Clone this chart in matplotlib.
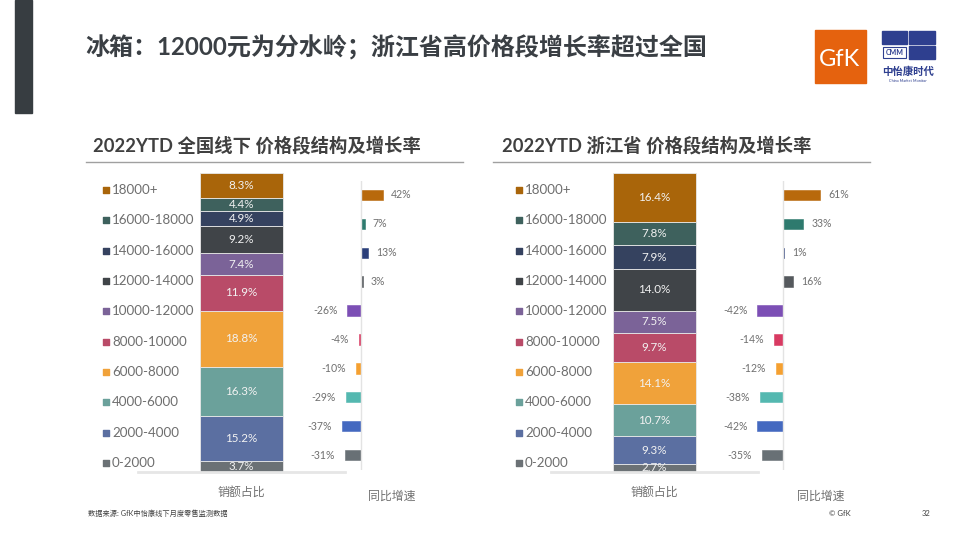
import matplotlib
matplotlib.use('Agg')
import matplotlib.pyplot as plt
from matplotlib.patches import Rectangle

plt.rcParams['font.family'] = ['Lato', 'Noto Sans CJK SC', 'DejaVu Sans']

# price bands, top to bottom
bands = ['18000+', '16000-18000', '14000-16000', '12000-14000', '10000-12000',
         '8000-10000', '6000-8000', '4000-6000', '2000-4000', '0-2000']
share_nat = [8.3, 4.4, 4.9, 9.2, 7.4, 11.9, 18.8, 16.3, 15.2, 3.7]
share_zj = [16.4, 7.8, 7.9, 14.0, 7.5, 9.7, 14.1, 10.7, 9.3, 2.7]
growth_nat = [42, 7, 13, 3, -26, -4, -10, -29, -37, -31]
growth_zj = [61, 33, 1, 16, -42, -14, -12, -38, -42, -35]

seg_colors = ['#A9650A', '#3E615D', '#35425F', '#404448', '#7B6398',
              '#B94B68', '#F0A23A', '#6BA19B', '#5B6FA1', '#6B7175']
gr_colors = ['#B8690C', '#2E7A6E', '#2B3F7A', '#55595D', '#7C4FB5',
             '#D83A62', '#F5A030', '#54B8B0', '#4469C0', '#687075']

title = '冰箱：12000元为分水岭；浙江省高价格段增长率超过全国'
sub_nat = '2022YTD 全国线下 价格段结构及增长率'
sub_zj = '2022YTD 浙江省 价格段结构及增长率'

W, H = 960, 540
fig = plt.figure(figsize=(9.6, 5.4), dpi=100)


def fbox(x0, y0, x1, y1):
    return [x0 / W, 1 - y1 / H, (x1 - x0) / W, (y1 - y0) / H]


def ftxt(x, y, s, **kw):
    fig.text(x / W, 1 - y / H, s, **kw)


def frect(x0, y0, x1, y1, **kw):
    fig.patches.append(Rectangle((x0 / W, 1 - y1 / H), (x1 - x0) / W, (y1 - y0) / H,
                                 transform=fig.transFigure, **kw))


# header
frect(15, 0, 32, 113, color='#373D41')
ftxt(85, 47, title, fontsize=17.3, fontweight='bold', color='#3A3F44', va='center')

# GfK logo
frect(815, 30, 866, 83, color='#E5620E')
ftxt(840, 60, 'GfK', fontsize=17, color='white', ha='center', va='center')
# CMM logo
frect(882, 31, 907, 44, color='#2E3F8F')
frect(909, 31, 935, 44, color='#2E3F8F')
frect(909, 46, 935, 59, color='#2E3F8F')
frect(883, 47, 906, 58, facecolor='white', edgecolor='#2E3F8F', lw=0.8)
ftxt(894.5, 52.5, 'CMM', fontsize=5, color='#2E3F8F', ha='center', va='center',
     fontweight='bold')
ftxt(908, 72, '中怡康时代', fontsize=7.5, color='#2E3F8F', ha='center', va='center',
     fontweight='bold')
ftxt(908, 81, 'China Market Monitor', fontsize=2.8, color='#2E3F8F', ha='center', va='center')


def panel(x_off, sub_x, sub, shares, growth, zero_px, scale, ul, gx_label):
    # subtitle and rule
    ftxt(sub_x, 145, sub, fontsize=13.2, fontweight='bold', color='#404040', va='center')
    fig.add_artist(plt.Line2D([ul[0] / W, ul[1] / W], [1 - 162 / H, 1 - 162 / H],
                              color='#A0A0A0', lw=1, transform=fig.transFigure))

    # legend
    lax = fig.add_axes(fbox(x_off + 100, 175, x_off + 200, 478))
    lax.set_xlim(x_off + 100, x_off + 200)
    lax.set_ylim(9.5, -0.5)
    lax.axis('off')
    for i, b in enumerate(bands):
        lax.scatter(x_off + 106, i, marker='s', s=16, color=seg_colors[i])
        lax.text(x_off + 112, i, b, fontsize=9.6, color='#6E6E6E', va='center')

    # stacked share bar
    sax = fig.add_axes(fbox(x_off + 138, 173, x_off + 345, 472))
    sax.set_xlim(x_off + 138, x_off + 345)
    sax.set_ylim(0, sum(shares))
    sax.axis('off')
    bottom = 0
    for i in range(len(bands) - 1, -1, -1):
        v = shares[i]
        sax.bar(x_off + 241.5, v, width=83, bottom=bottom, color=seg_colors[i],
                edgecolor='#E8E8E8', linewidth=0.6)
        sax.text(x_off + 241.5, bottom + v / 2, f'{v:.1f}%', fontsize=8.4,
                 color='#F2F2F2', ha='center', va='center')
        bottom += v
    sax.axhline(0, color='#E6E6E6', lw=2, clip_on=False)
    ftxt(x_off + 241, 492, '销额占比', fontsize=8.6, color='#707070', ha='center', va='center')

    # growth bars
    ax0, ax1 = x_off + 290, x_off + 470
    gax = fig.add_axes(fbox(ax0, 180.5, ax1, 469.5))
    gax.set_xlim((ax0 - zero_px) / scale, (ax1 - zero_px) / scale)
    gax.set_ylim(9.5, -0.5)
    gax.axis('off')
    ypos = list(range(len(bands)))
    gax.barh(ypos, growth, height=0.36, color=gr_colors, edgecolor=gr_colors, linewidth=0.4)
    gax.axvline(0, color='#E3E3E3', lw=1)
    for i, v in enumerate(growth):
        if v >= 0:
            x = max(v + 8 / scale, 9 / scale)
            gax.text(x, i, f'{v}%', fontsize=7.6, color='#707070', ha='left', va='center')
        else:
            gax.text(v - 10 / scale, i, f'{v}%', fontsize=7.6, color='#707070',
                     ha='right', va='center')
    ftxt(gx_label, 496, '同比增速', fontsize=8.6, color='#707070', ha='center', va='center')


panel(0, 93, sub_nat, share_nat, growth_nat, 361, 0.52, (86, 463), 392)
panel(413, 502, sub_zj, share_zj, growth_zj, 783, 0.61, (493, 870), 821)

# footer
ftxt(88, 513, '数据来源: GfK中怡康线下月度零售监测数据', fontsize=5.2, color='#404040', va='center')
ftxt(840, 514, '© GfK', fontsize=5.5, color='#404040', ha='center', va='center')
ftxt(926, 514, '32', fontsize=5.5, color='#404040', ha='center', va='center')

fig.savefig('out.png', dpi=100)
